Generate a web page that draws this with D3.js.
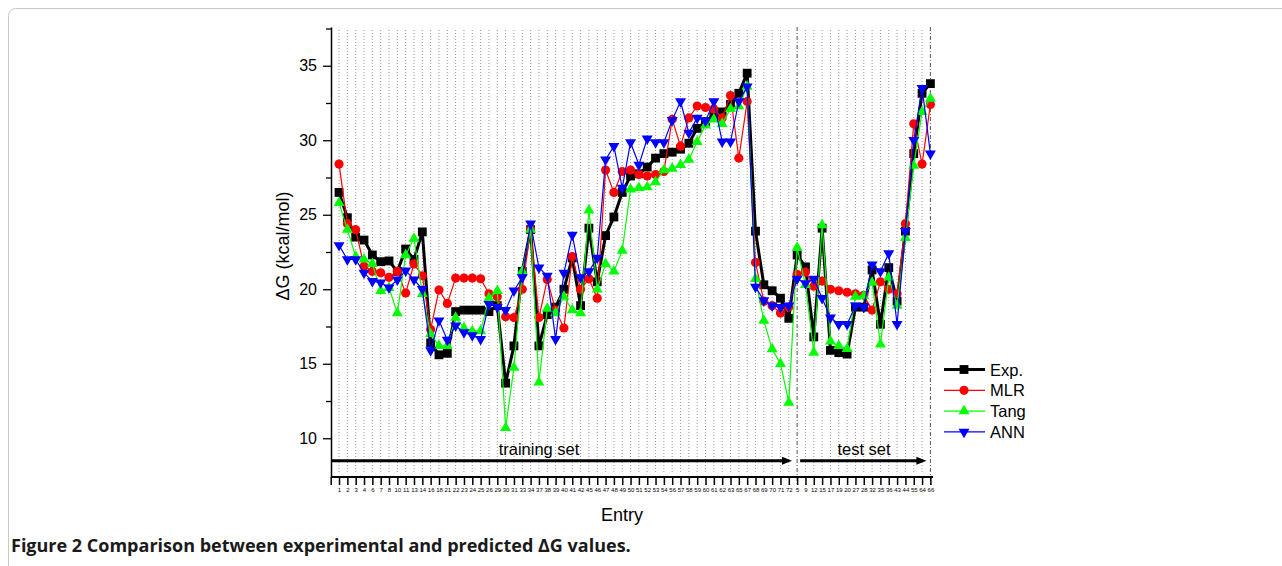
<!DOCTYPE html>
<html>
<head>
<meta charset="utf-8">
<script src="https://cdn.jsdelivr.net/npm/d3@7"></script>
<style>
  body { margin: 0; background: #fff; }
  svg { display: block; font-family: "Liberation Sans", Arial, sans-serif; }
</style>
</head>
<body>
<div id="chart"></div>
<script>
// Entry numbers in plotted order (55 training, then 17 test)
const entries = ["1","2","3","4","6","7","8","10","11","13","14","16","18","21","22","23","24","25","26","29",
  "30","31","33","34","37","38","39","40","41","42","45","46","47","48","49","50","51","52","53","54",
  "56","57","58","59","60","61","62","63","65","67","68","69","70","71","72",
  "5","9","12","15","17","19","20","27","28","32","35","36","43","44","55","64","66"]
const nTraining = 55

const expValues = [26.5,24.8,23.5,23.3,22.3,21.85,21.9,21.2,22.7,22.0,23.85,16.4,15.6,15.7,18.5,18.6,18.6,18.6,18.5,18.9,
  13.7,16.2,21.2,24.0,16.2,18.3,18.8,20.0,22.1,18.9,24.1,20.5,23.6,24.85,26.5,27.6,27.75,28.2,28.8,29.1,
  29.2,29.4,29.8,30.8,31.25,31.7,31.9,32.4,33.15,34.5,23.9,20.3,19.9,19.4,18.05,
  22.3,21.5,16.8,24.1,15.9,15.75,15.65,18.8,18.8,21.3,17.65,21.45,19.2,23.9,29.1,33.15,33.8]
const mlrValues = [28.4,24.4,24.0,21.55,21.2,21.1,20.8,21.2,19.75,21.7,20.9,17.3,19.95,19.05,20.75,20.75,20.75,20.7,19.7,19.5,
  18.15,18.1,20.0,24.0,18.1,20.65,18.6,17.4,22.2,20.0,20.7,19.4,28.0,26.5,27.9,28.0,27.7,27.6,27.7,27.9,
  31.4,29.6,31.5,32.3,32.2,32.1,31.5,33.0,28.8,32.6,21.8,19.2,18.9,18.4,18.8,
  21.0,21.15,20.2,20.55,20.0,19.9,19.8,19.7,19.6,18.6,20.5,20.0,19.7,24.4,31.1,28.4,32.4]
const tangValues = [25.8,24.0,22.2,22.0,21.7,19.9,20.1,18.4,22.3,23.4,19.7,17.0,16.2,16.2,18.1,17.4,17.2,17.2,19.4,19.9,
  10.7,14.75,21.2,24.0,13.75,18.7,18.4,19.5,18.6,18.4,25.3,20.0,21.7,21.2,22.6,26.7,26.8,26.85,27.2,28.0,
  28.1,28.35,28.7,29.9,31.0,31.4,31.1,32.1,32.3,33.6,20.7,17.9,15.98,15.0,12.4,
  22.8,20.3,15.75,24.3,16.5,16.2,16.0,19.5,19.55,20.45,16.3,20.8,18.9,23.45,28.3,31.9,32.8]
const annValues = [22.95,22.0,22.0,21.1,20.55,20.45,20.1,20.65,21.25,20.65,20.0,15.9,17.9,16.6,17.55,17.1,16.9,16.65,19.0,18.8,
  18.6,19.9,20.8,24.4,21.45,20.9,16.65,21.1,23.65,20.8,21.2,22.1,28.7,29.6,26.8,29.85,28.35,30.1,29.85,29.85,
  31.35,32.6,30.5,31.5,31.3,32.6,29.9,29.9,32.6,33.6,20.15,19.25,18.9,18.8,18.9,
  20.7,20.4,20.7,19.4,18.1,17.65,17.65,18.9,18.8,21.65,21.2,22.4,17.65,23.9,30.0,33.5,29.1]

const yMajor = [10, 15, 20, 25, 30, 35]
const yMinor = [12.5, 17.5, 22.5, 27.5, 32.5, 37.5]

const series = [
  { name: "Exp.", values: expValues, color: "#000000", width: 3, symbol: d3.symbolSquare, size: 78, rotate: 0 },
  { name: "MLR", values: mlrValues, color: "#ff0000", width: 1.2, symbol: d3.symbolCircle, size: 66, rotate: 0 },
  { name: "Tang", values: tangValues, color: "#00ff00", width: 1.2, symbol: d3.symbolTriangle, size: 52, rotate: 0 },
  { name: "ANN", values: annValues, color: "#0000ff", width: 1.2, symbol: d3.symbolTriangle, size: 52, rotate: 180 }
]

const W = 1282, H = 566
const svg = d3.select("#chart").append("svg")
  .attr("width", W)
  .attr("height", H)

// figure frame
svg.append("rect")
  .attr("x", 8.5).attr("y", 8.5)
  .attr("width", 1300).attr("height", 620)
  .attr("rx", 7)
  .attr("fill", "none")
  .attr("stroke", "#c8c8c8")

const PLOT = { LEFT: 331, TOP: 27, BOTTOM: 477 }
const x = d3.scaleLinear().domain([0, 72]).range([330.7, 930.4])
const y = d3.scaleLinear().domain([7.4, 37.6]).range([PLOT.BOTTOM, PLOT.TOP])

// vertical grid per entry
const grid = svg.append("g")
d3.range(1, entries.length + 1).forEach(i => {
  const special = (i === nTraining + 1 || i === entries.length)
  grid.append("line")
    .attr("x1", x(i)).attr("x2", x(i))
    .attr("y1", special ? 27 : 30)
    .attr("y2", special ? 486 : 472)
    .attr("stroke", special ? "#555" : "#999")
    .attr("stroke-width", 1)
    .attr("stroke-dasharray", special ? "4,2,1,2" : "1,2")
})

// training / test arrows
function arrow(x0, x1, yy) {
  svg.append("line")
    .attr("x1", x0).attr("x2", x1 - 8)
    .attr("y1", yy).attr("y2", yy)
    .attr("stroke", "#000").attr("stroke-width", 3)
  svg.append("path")
    .attr("d", `M${x1 - 10},${yy - 4}L${x1},${yy}L${x1 - 10},${yy + 4}Z`)
    .attr("fill", "#000")
}
const arrowY = 460.7
const splitX = (x(nTraining) + x(nTraining + 1)) / 2
arrow(PLOT.LEFT, splitX - 1, arrowY)
arrow(x(nTraining + 1) + 3, x(entries.length) - 4, arrowY)

svg.append("text")
  .attr("x", 539)
  .attr("y", 455)
  .attr("text-anchor", "middle")
  .style("font-size", "16.5px")
  .text("training set")
svg.append("text")
  .attr("x", 864)
  .attr("y", 455)
  .attr("text-anchor", "middle")
  .style("font-size", "16.5px")
  .text("test set")

// axes
const xAxis = svg.append("g")
  .attr("transform", `translate(0,${PLOT.BOTTOM})`)
  .call(d3.axisBottom(x)
    .tickValues(d3.range(0, entries.length + 1))
    .tickFormat(i => i === 0 ? "" : entries[i - 1])
    .tickSize(8)
    .tickSizeOuter(0)
    .tickPadding(3))
xAxis.select(".domain").attr("stroke-width", 2).attr("d", `M${PLOT.LEFT},0H933`)
xAxis.selectAll(".tick line").attr("stroke-width", 1.5)
xAxis.selectAll(".tick text").style("font-size", "6px").style("font-family", "Liberation Sans, Arial, sans-serif")

const yAxis = svg.append("g")
  .attr("transform", `translate(${PLOT.LEFT},0)`)
  .call(d3.axisLeft(y).tickValues(yMajor).tickSize(8).tickSizeOuter(0).tickPadding(6))
yAxis.select(".domain").attr("stroke-width", 1.5)
yAxis.selectAll(".tick line").attr("stroke-width", 1.3)
yAxis.selectAll(".tick text").style("font-size", "16px").style("font-family", "Liberation Sans, Arial, sans-serif")

svg.append("g")
  .attr("transform", `translate(${PLOT.LEFT},0)`)
  .call(d3.axisLeft(y).tickValues(yMinor).tickSize(5).tickFormat(""))
  .call(g => g.select(".domain").remove())
  .selectAll(".tick line").attr("stroke-width", 1.3)

svg.append("text")
  .attr("transform", `translate(289,246) rotate(-90)`)
  .attr("text-anchor", "middle")
  .style("font-size", "18px")
  .text("ΔG (kcal/mol)")

svg.append("text")
  .attr("x", 622).attr("y", 521)
  .attr("text-anchor", "middle")
  .style("font-size", "18px")
  .text("Entry")

// series
const line = d3.line()
  .x((d, i) => x(i + 1))
  .y(d => y(d))

series.forEach(s => {
  const g = svg.append("g")
  g.append("path")
    .datum(s.values)
    .attr("d", line)
    .attr("fill", "none")
    .attr("stroke", s.color)
    .attr("stroke-width", s.width)
    .attr("stroke-linejoin", "round")
  g.selectAll("path.pt")
    .data(s.values)
    .join("path")
    .attr("class", "pt")
    .attr("d", d3.symbol().type(s.symbol).size(s.size))
    .attr("transform", (d, i) => `translate(${x(i + 1)},${y(d)}) rotate(${s.rotate})`)
    .attr("fill", s.color)
})

// legend
const legend = svg.append("g").attr("transform", "translate(944,369.5)")
series.forEach((s, k) => {
  const row = legend.append("g").attr("transform", `translate(0,${k * 20.8})`)
  row.append("line")
    .attr("x1", 0).attr("x2", 41)
    .attr("stroke", s.color)
    .attr("stroke-width", s.width)
  row.append("path")
    .attr("d", d3.symbol().type(s.symbol).size(s.size))
    .attr("transform", `translate(20,0) rotate(${s.rotate})`)
    .attr("fill", s.color)
  row.append("text")
    .attr("x", 46).attr("y", 6)
    .style("font-size", "16.5px")
    .text(s.name)
})

// caption
const cap = svg.append("text")
  .attr("x", 11).attr("y", 552)
  .style("font-family", "'Open Sans', 'Liberation Sans', sans-serif")
  .style("font-size", "18px")
  .style("font-weight", "bold")
  .attr("fill", "#1a1a1a")
cap.append("tspan").text("Figure 2 ")
cap.append("tspan").text("Comparison between experimental and predicted ΔG values.")
</script>
</body>
</html>
